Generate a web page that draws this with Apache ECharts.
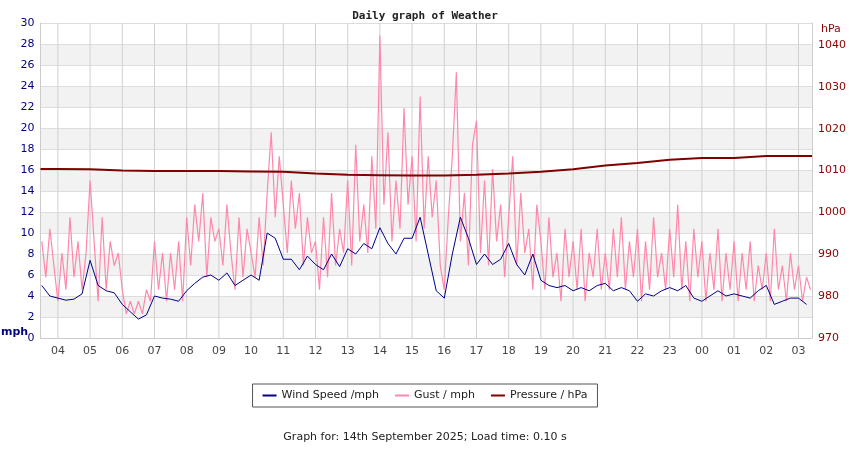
<!DOCTYPE html>
<html>
<head>
<meta charset="utf-8">
<script src="https://cdn.jsdelivr.net/npm/echarts@6/dist/echarts.min.js"></script>
<style>body{margin:0;background:#fff}#main{width:850px;height:450px}</style>
</head>
<body>
<div id="main"></div>
<script>
// hours since midnight of 13th; 24+ = next day
var hourTicks = [4,5,6,7,8,9,10,11,12,13,14,15,16,17,18,19,20,21,22,23,24,25,26,27];
var windStart = 3.5, windStep = 0.25;
var windSpeed = [5,4,
  3.8,3.6,3.7,4.2, 7.4,5,4.5,4.3, 3.2,2.5,1.8,2.2, 4,3.8,3.7,3.5,
  4.5,5.2,5.8,6, 5.5,6.2,5,5.5, 6,5.5,10,9.5, 7.5,7.5,6.5,7.8,
  7,6.5,8,6.8, 8.5,8,9,8.5, 10.5,9,8,9.5, 9.5,11.5,8,4.5,
  3.8,8,11.5,9.5, 7,8,7,7.5, 9,7,6,8, 5.5,5,4.8,5,
  4.5,4.8,4.5,5, 5.2,4.5,4.8,4.5, 3.5,4.2,4,4.5, 4.8,4.5,5,3.8,
  3.5,4,4.5,4, 4.2,4,3.8,4.5, 5,3.2,3.5,3.8, 3.8,3.2];
var gustStart = 3.5, gustStep = 0.125;
var gust = [9.2,5.8,10.4,6.9,
  3.5,8.1,4.6,11.5,5.8,9.2,4.6,8.1, 15,9.2,3.5,11.5,4.6,9.2,6.9,8.1,
  4.6,2.3,3.5,2.3,3.5,2.3,4.6,3.5, 9.2,4.6,8.1,3.5,8.1,4.6,9.2,3.5,
  11.5,6.9,12.7,9.2,13.8,5.8,11.5,9.2, 10.4,6.9,12.7,8.1,4.6,11.5,5.8,10.4,
  8.1,5.8,11.5,6.9,13.8,19.6,11.5,17.3, 12.7,8.1,15,10.4,13.8,6.9,11.5,8.1,
  9.2,4.6,11.5,5.8,13.8,6.9,10.4,8.1, 15,6.9,18.4,9.2,12.7,8.1,17.3,10.4,
  28.8,12.7,19.6,9.2,15,10.4,21.9,12.7, 17.3,9.2,23,10.4,17.3,11.5,15,6.9,
  4.6,11.5,17.3,25.3,9.2,13.8,6.9,18.4, 20.7,8.1,15,6.9,16.1,9.2,12.7,5.8,
  11.5,17.3,6.9,13.8,8.1,10.4,4.6,12.7, 9.2,4.6,11.5,5.8,8.1,3.5,10.4,5.8,
  9.2,4.6,10.4,3.5,8.1,5.8,10.4,4.6, 8.1,4.6,10.4,5.8,11.5,4.6,9.2,5.8,
  10.4,3.5,9.2,4.6,11.5,5.8,8.1,4.6, 10.4,5.8,12.7,4.6,9.2,3.5,10.4,5.8,
  9.2,3.5,8.1,4.6,10.4,3.5,8.1,4.6, 9.2,3.5,8.1,4.6,9.2,3.5,6.9,4.6,
  8.1,3.5,10.4,4.6,6.9,3.5,8.1,4.6, 6.9,3.5,5.8,4.6];
var pressureTimes = [3.46,4,5,6,7,8,9,10,11,12,13,14,15,16,17,18,19,20,21,22,23,24,25,26,27,27.42];
var pressure = [1010.4,1010.4,1010.3,1010.0,1009.9,1009.9,1009.9,1009.8,1009.7,1009.3,1009.0,1008.9,1008.8,1008.8,1009.0,1009.3,1009.7,1010.3,1011.2,1011.8,1012.6,1013.0,1013.0,1013.5,1013.5,1013.5];

function pairs(start, step, vals) { return vals.map(function (v, i) { return [start + i * step, v]; }); }
var vGrid = [];
hourTicks.forEach(function (h) { vGrid.push([h, 0], [h, 30], '-'); });

var font = 'DejaVu Sans';
var chart = echarts.init(document.getElementById('main'));
chart.setOption({
  animation: false,
  textStyle: { fontFamily: font },
  title: { text: 'Daily graph of Weather', left: 'center', top: 6,
    textStyle: { fontFamily: 'DejaVu Sans Mono', fontSize: 11, fontWeight: 'bold', color: '#222' } },
  grid: { left: 40.5, right: 38, top: 23, bottom: 112 },
  legend: { bottom: 43, left: 'center', itemWidth: 14, itemHeight: 2, itemGap: 16,
    borderColor: '#555', borderWidth: 1, padding: [6, 10], icon: 'rect',
    textStyle: { fontSize: 11, color: '#222' },
    data: ['Wind Speed /mph', 'Gust / mph', 'Pressure / hPa'] },
  graphic: [
    { type: 'text', left: 'center', top: 432, style: { text: 'Graph for: 14th September 2025; Load time: 0.10 s', font: '11px DejaVu Sans', fill: '#222' } },
    { type: 'text', left: 1, top: 327, style: { text: 'mph', font: 'bold 11px DejaVu Sans', fill: '#000080' } },
    { type: 'text', left: 821, top: 24, style: { text: 'hPa', font: '11px DejaVu Sans', fill: '#8b0000' } }
  ],
  xAxis: { type: 'value', min: 3.46, max: 27.42,
    axisLine: { lineStyle: { color: '#ccc' } }, axisTick: { show: false }, splitLine: { show: false },
    axisLabel: { customValues: hourTicks, color: '#444', fontSize: 11, margin: 8,
      formatter: function (v) { var h = Math.round(v) % 24; return (h < 10 ? '0' : '') + h; } } },
  yAxis: [
    { type: 'value', min: 0, max: 30, interval: 2,
      axisLine: { show: true, lineStyle: { color: '#ccc' } }, axisTick: { show: false },
      axisLabel: { color: '#000080', fontSize: 11, margin: 6 },
      splitLine: { lineStyle: { color: '#ddd' } },
      splitArea: { show: true, areaStyle: { color: ['#fff', '#f2f2f2'] } } },
    { type: 'value', min: 970, max: 1045.25, interval: 10,
      axisLine: { show: true, lineStyle: { color: '#ccc' } }, axisTick: { show: false },
      axisLabel: { color: '#8b0000', fontSize: 11, margin: 6, showMaxLabel: false,
        formatter: function (v) { return String(v); } },
      splitLine: { show: false } }
  ],
  series: [
    { name: 'grid', type: 'line', data: vGrid, showSymbol: false, silent: true, connectNulls: false,
      lineStyle: { color: '#d0d0d0', width: 1 }, z: 1, tooltip: { show: false } },
    { name: 'Gust / mph', type: 'line', data: pairs(gustStart, gustStep, gust), showSymbol: false,
      lineStyle: { color: '#ff88aa', width: 1.2 }, itemStyle: { color: '#ff88aa' }, z: 2 },
    { name: 'Wind Speed /mph', type: 'line', data: pairs(windStart, windStep, windSpeed), showSymbol: false,
      lineStyle: { color: '#00008b', width: 1 }, itemStyle: { color: '#00008b' }, z: 3 },
    { name: 'Pressure / hPa', type: 'line', yAxisIndex: 1,
      data: pressureTimes.map(function (t, i) { return [t, pressure[i]]; }), showSymbol: false,
      lineStyle: { color: '#800000', width: 2 }, itemStyle: { color: '#800000' }, z: 4 }
  ]
});
</script>
</body>
</html>
